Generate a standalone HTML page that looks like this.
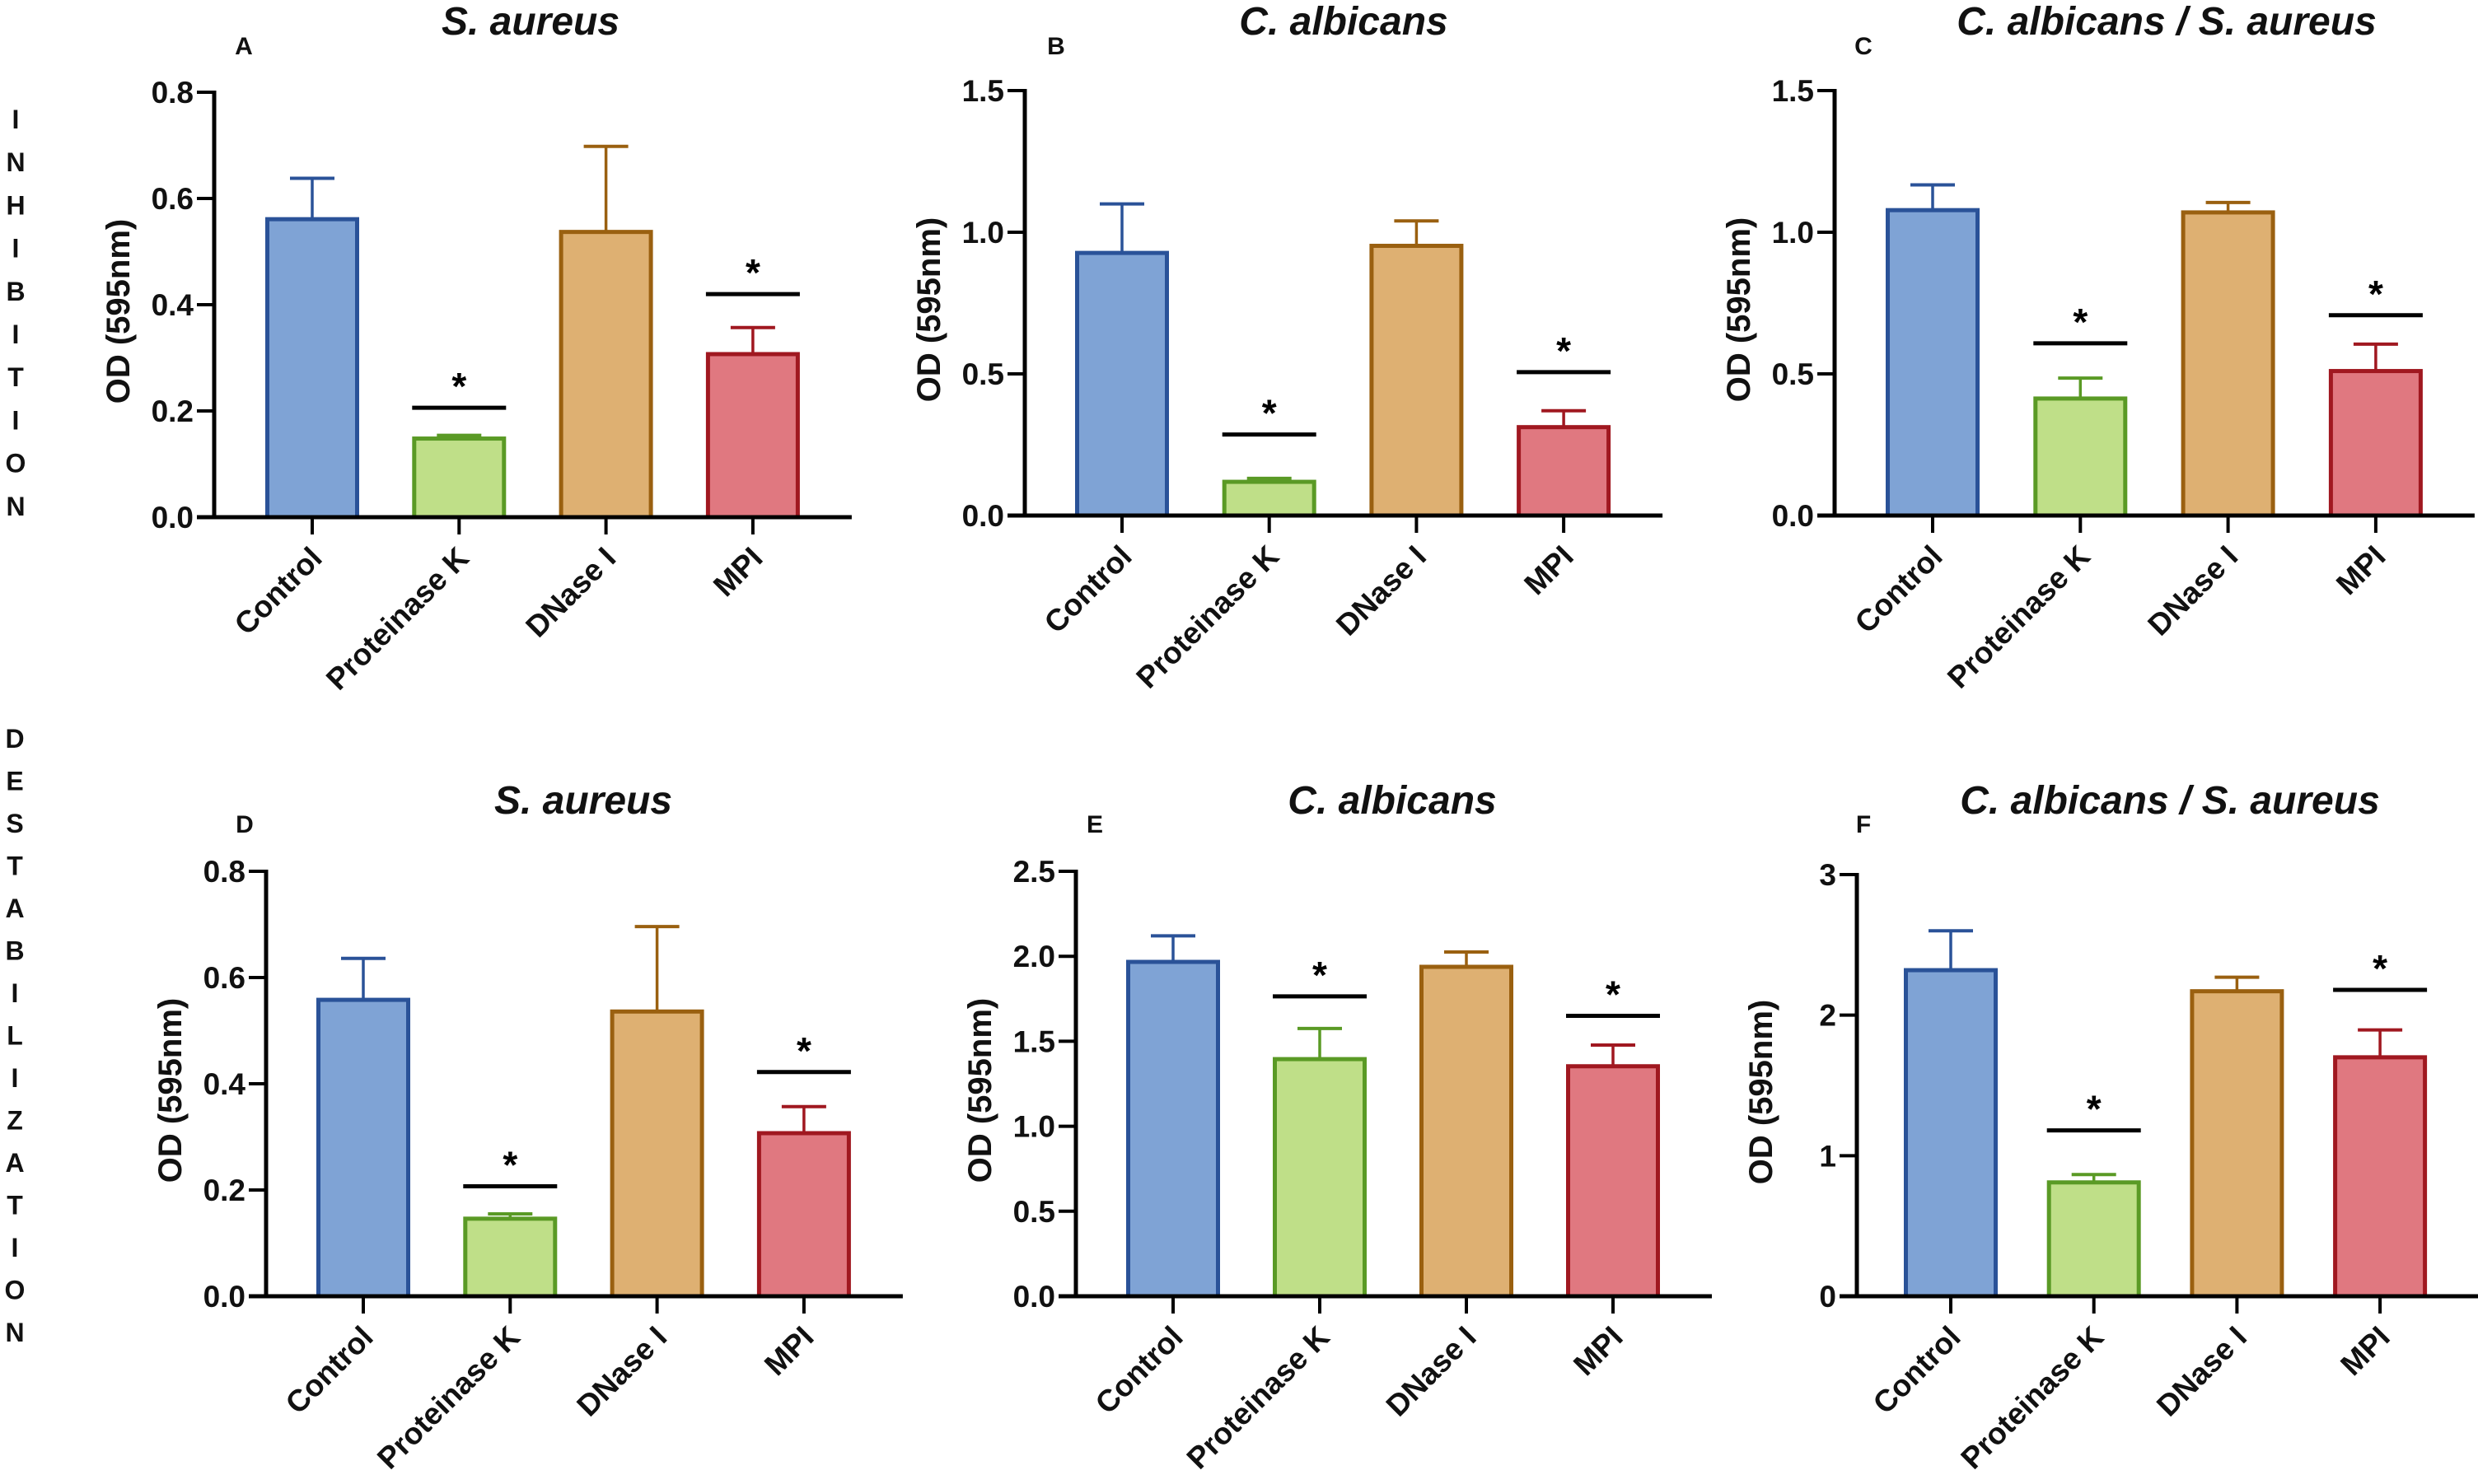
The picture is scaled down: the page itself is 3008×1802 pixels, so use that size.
<!DOCTYPE html>
<html><head><meta charset="utf-8"><style>
html,body{margin:0;padding:0;background:#fff;}
svg{display:block;font-family:"Liberation Sans",sans-serif;}
</style></head><body>
<svg id="fig" width="3008" height="1802" viewBox="0 0 3008 1802" xmlns="http://www.w3.org/2000/svg"></svg>
<script>
const categories = ["Control","Proteinase K","DNase I","MPI"];
const valuesA = [0.561,0.148,0.537,0.307];
const errA = [0.638,0.154,0.698,0.357];
const sigA = [null,0.206,null,0.42];
const valuesB = [0.927,0.119,0.952,0.312];
const errB = [1.10,0.131,1.04,0.37];
const sigB = [null,0.286,null,0.506];
const valuesC = [1.078,0.413,1.07,0.51];
const errC = [1.167,0.485,1.105,0.605];
const sigC = [null,0.608,null,0.707];
const valuesD = [0.558,0.146,0.536,0.307];
const errD = [0.636,0.155,0.696,0.357];
const sigD = [null,0.207,null,0.422];
const valuesE = [1.967,1.395,1.938,1.353];
const errE = [2.12,1.575,2.025,1.478];
const sigE = [null,1.764,null,1.65];
const valuesF = [2.32,0.81,2.17,1.70];
const errF = [2.6,0.866,2.27,1.895];
const sigF = [null,1.18,null,2.18];
const ticksAB = [0,0.2,0.4,0.6,0.8];
const ticksLabelsA = ["0.0","0.2","0.4","0.6","0.8"];
const ticks15 = [0,0.5,1.0,1.5];
const ticksLabels15 = ["0.0","0.5","1.0","1.5"];
const ticksE = [0,0.5,1.0,1.5,2.0,2.5];
const ticksLabelsE = ["0.0","0.5","1.0","1.5","2.0","2.5"];
const ticksF = [0,1,2,3];
const ticksLabelsF = ["0","1","2","3"];

const fills = ["#7fa3d5","#bfdf88","#deb072","#e07880"];
const strokes = ["#2a5298","#5a9a25","#9a6010","#a01820"];
const NS = "http://www.w3.org/2000/svg";
const svg = document.getElementById("fig");
function mk(tag, attrs, parent, text){
  const e = document.createElementNS(NS, tag);
  for (const k in attrs) e.setAttribute(k, attrs[k]);
  if (text !== undefined) e.textContent = text;
  (parent||svg).appendChild(e);
  return e;
}
const panels = [
 {id:"a",letter:"A",title:"S. aureus",tx:644,ax:260,y0:628,ytop:112,max:0.8,t0:379,dt:178.3,vals:valuesA,errs:errA,sigs:sigA,ticks:ticksAB,tl:ticksLabelsA,tY:42,lx:296,ly:66},
 {id:"b",letter:"B",title:"C. albicans",tx:1631,ax:1244,y0:626,ytop:110,max:1.5,t0:1362,dt:178.7,vals:valuesB,errs:errB,sigs:sigB,ticks:ticks15,tl:ticksLabels15,tY:42,lx:1282,ly:66},
 {id:"c",letter:"C",title:"C. albicans / S. aureus",tx:2630,ax:2227,y0:626,ytop:110,max:1.5,t0:2346,dt:179.3,vals:valuesC,errs:errC,sigs:sigC,ticks:ticks15,tl:ticksLabels15,tY:42,lx:2262,ly:66},
 {id:"d",letter:"D",title:"S. aureus",tx:708,ax:323,y0:1574,ytop:1058,max:0.8,t0:441,dt:178.3,vals:valuesD,errs:errD,sigs:sigD,ticks:ticksAB,tl:ticksLabelsA,tY:988,lx:297,ly:1011},
 {id:"e",letter:"E",title:"C. albicans",tx:1690,ax:1306,y0:1574,ytop:1058,max:2.5,t0:1424,dt:178,vals:valuesE,errs:errE,sigs:sigE,ticks:ticksE,tl:ticksLabelsE,tY:988,lx:1329,ly:1011},
 {id:"f",letter:"F",title:"C. albicans / S. aureus",tx:2634,ax:2254,y0:1574,ytop:1062,max:3,t0:2368,dt:173.7,vals:valuesF,errs:errF,sigs:sigF,ticks:ticksF,tl:ticksLabelsF,tY:988,lx:2262,ly:1011}
];
panels.forEach(p=>{
  const g = mk("g",{});
  
  
  const y = v => p.y0 - (v/p.max)*(p.y0-p.ytop);
  const xc = i => p.t0 + i*p.dt;
  const bw = 114;
  const axisEnd = xc(3) + 120;
  const t = mk("text",{x:p.tx,y:p.tY,"text-anchor":"middle","font-size":48,"font-weight":"bold","font-style":"italic",fill:"#111"},g,p.title);
  
  
  const l = mk("text",{x:p.lx,y:p.ly,"text-anchor":"middle","font-size":30,"font-weight":"bold",fill:"#111"},g,p.letter);
  
  
  p.vals.forEach((v,i)=>{
    const cx = xc(i);
    const eb = mk("line",{x1:cx,x2:cx,y1:y(v),y2:y(p.errs[i]),stroke:strokes[i],"stroke-width":3.5},g);
    
    
    const cap = mk("line",{x1:cx-27,x2:cx+27,y1:y(p.errs[i]),y2:y(p.errs[i]),stroke:strokes[i],"stroke-width":4},g);
    
    
    const r = mk("rect",{x:cx-bw/2+2.5,y:y(v),width:bw-5,height:p.y0-y(v),fill:fills[i],stroke:strokes[i],"stroke-width":5},g);
    
    
    if (p.sigs[i]!==null){
      const sl = mk("line",{x1:cx-57,x2:cx+57,y1:y(p.sigs[i]),y2:y(p.sigs[i]),stroke:"#000","stroke-width":5},g);
      
      
      const st = mk("text",{x:cx,y:y(p.sigs[i])-10,"text-anchor":"middle","font-size":46,"font-weight":"bold",fill:"#000"},g,"*");
      
      
    }
    const tk = mk("line",{x1:cx,x2:cx,y1:p.y0,y2:p.y0+21,stroke:"#000","stroke-width":4},g);
    
    
    const cl = mk("text",{x:0,y:0,"text-anchor":"end","font-size":37,"font-weight":"bold",fill:"#111",transform:`translate(${cx+14},${p.y0+52}) rotate(-45)`},g,categories[i]);
    
    
  });
  const ya = mk("line",{x1:p.ax,x2:p.ax,y1:p.ytop-2,y2:p.y0+2,stroke:"#000","stroke-width":5},g);
  
  
  const xa = mk("line",{x1:p.ax-21,x2:axisEnd,y1:p.y0,y2:p.y0,stroke:"#000","stroke-width":5},g);
  
  
  p.ticks.forEach((tv,j)=>{
    const yl = mk("line",{x1:p.ax-21,x2:p.ax,y1:y(tv),y2:y(tv),stroke:"#000","stroke-width":4},g);
    
    
    const tx = mk("text",{x:p.ax-25,y:y(tv)+13,"text-anchor":"end","font-size":37,"font-weight":"bold",fill:"#111"},g,p.tl[j]);
    
    
  });
  const yt = mk("text",{x:0,y:0,"text-anchor":"middle","font-size":40,"font-weight":"bold",fill:"#111",transform:`translate(${p.ax-103},${(p.y0+p.ytop)/2+8}) rotate(-90)`},g,"OD (595nm)");
  
  
});
const sideTop = "INHIBITION".split("");
sideTop.forEach((ch,i)=>{
  const t = mk("text",{x:19,y:144+i*52.2+12,"text-anchor":"middle","font-size":32,"font-weight":"bold",fill:"#111"},svg,ch);
  
  
});
const sideBot = "DESTABILIZATION".split("");
sideBot.forEach((ch,i)=>{
  const t = mk("text",{x:18,y:896+i*51.5+12,"text-anchor":"middle","font-size":32,"font-weight":"bold",fill:"#111"},svg,ch);
  
  
});
</script>
</body></html>
